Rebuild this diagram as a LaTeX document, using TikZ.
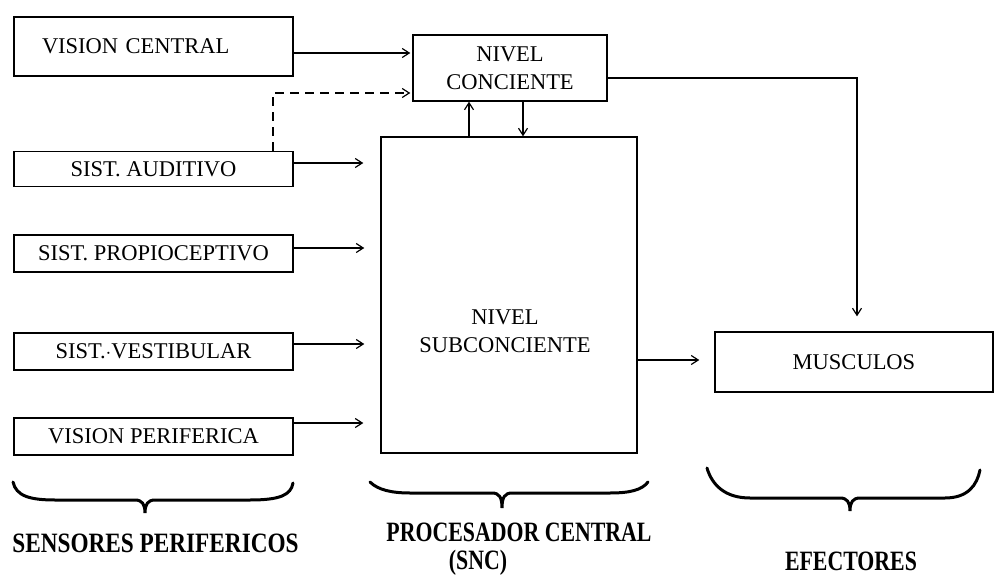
\documentclass[tikz,border=0pt]{standalone}
\usepackage{fontspec}
\setmainfont{Liberation Serif}
\newfontfamily\labfont[FakeStretch=0.78]{Liberation Serif}
\usetikzlibrary{arrows.meta,calc}
\tikzset{
  box/.style={draw, line width=1.4pt, inner sep=0pt, font=\fontsize{22.5}{28}\selectfont, align=center},
  arr/.style={line width=1.2pt, -{Straight Barb[length=7pt,width=9pt,line width=1.2pt]}},
  brace/.style={line width=3pt, line join=miter, line cap=round},
  lab/.style={font=\labfont\bfseries\fontsize{28}{32}\selectfont, inner sep=0pt}
}
\begin{document}
\begin{tikzpicture}[x=1pt,y=-1pt]
\useasboundingbox[fill=white] (0,0) rectangle (994,578);
% sensor boxes
\node[box, minimum height=59pt, text width=223pt, inner xsep=28pt, align=left] (vc) at (153.5,46.5) {VISION CENTRAL};
\node[box, minimum width=279pt, minimum height=35pt] (sa) at (153.5,169) {SIST. AUDITIVO};
\node[box, minimum width=279pt, minimum height=37pt] (sp) at (153.5,253.5) {SIST. PROPIOCEPTIVO};
\node[box, minimum width=279pt, minimum height=37pt] (sv) at (153.5,351.5) {SIST.$\cdot$VESTIBULAR};
\node[box, minimum width=279pt, minimum height=37pt] (vp) at (153.5,436.5) {VISION PERIFERICA};
% central
\node[box, minimum width=194pt, minimum height=66pt] (nc) at (510,68) {NIVEL\\CONCIENTE};
\node[box, minimum width=256pt, minimum height=316pt] (sub) at (509,295) {};
\node[font=\fontsize{22.5}{28}\selectfont, align=center] (subt) at (505,331) {NIVEL\\SUBCONCIENTE};
% effector
\node[box, minimum width=278pt, minimum height=60pt] (mu) at (854,362) {MUSCULOS};
% helper coordinates
\coordinate (yvc) at (0,53);
\coordinate (yda) at (0,93);
\coordinate (xda) at (273,0);
\coordinate (ya) at (0,163);
\coordinate (yp) at (0,248);
\coordinate (yv) at (0,344);
\coordinate (yf) at (0,423);
\coordinate (xup) at (469,0);
\coordinate (xdn) at (523,0);
\coordinate (ync) at (0,78);
\coordinate (xmu) at (857,0);
\coordinate (ymu) at (0,360);
% arrows
\draw[arr, shorten >=2pt] (vc.east |- yvc) -- (nc.west |- yvc);
\draw[arr, dashed, dash pattern=on 9pt off 6pt, shorten >=2pt] (xda |- sa.north) -- (xda |- yda) -- (nc.west |- yda);
\draw[arr, shorten >=17pt] (sa.east |- ya) -- (sub.west |- ya);
\draw[arr, shorten >=16pt] (sp.east |- yp) -- (sub.west |- yp);
\draw[arr, shorten >=16pt] (sv.east |- yv) -- (sub.west |- yv);
\draw[arr, shorten >=17pt] (vp.east |- yf) -- (sub.west |- yf);
\draw[arr] (xup |- sub.north) -- (xup |- nc.south);
\draw[arr] (xdn |- nc.south) -- (xdn |- sub.north);
\draw[arr, shorten >=15pt] (nc.east |- ync) -- (xmu |- ync) -- (xmu |- mu.north);
\draw[arr, shorten >=15pt] (sub.east |- ymu) -- (mu.west |- ymu);
% braces
\draw[brace] (13,482) .. controls (16,496) and (30,500) .. (55,500) -- (135,500) .. controls (142,500) and (145,504) .. (145,513) .. controls (145,504) and (148,500) .. (155,500) -- (250,500) .. controls (280,500) and (291,495) .. (293,483);
\draw[brace] (370,482) .. controls (378,490) and (392,493) .. (410,493) -- (492,493) .. controls (499,493) and (502,497) .. (502,508) .. controls (502,497) and (505,493) .. (512,493) -- (610,493) .. controls (630,493) and (642,490) .. (648,482);
\draw[brace] (707,468) .. controls (712,485) and (725,498) .. (750,498) -- (840,498) .. controls (847,498) and (850,502) .. (850,511) .. controls (850,502) and (853,498) .. (860,498) -- (945,498) .. controls (968,498) and (977,485) .. (980,470);
% labels
\node[lab] (l1) at (155.5,543) {\scalebox{1.065}[1]{SENSORES PERIFERICOS}};
\node[lab] (l2) at (519,532) {PROCESADOR CENTRAL};
\node[lab] (l3) at (478,563) {(SNC)};
\node[lab] (l4) at (851,561) {EFECTORES};
\end{tikzpicture}
\end{document}
